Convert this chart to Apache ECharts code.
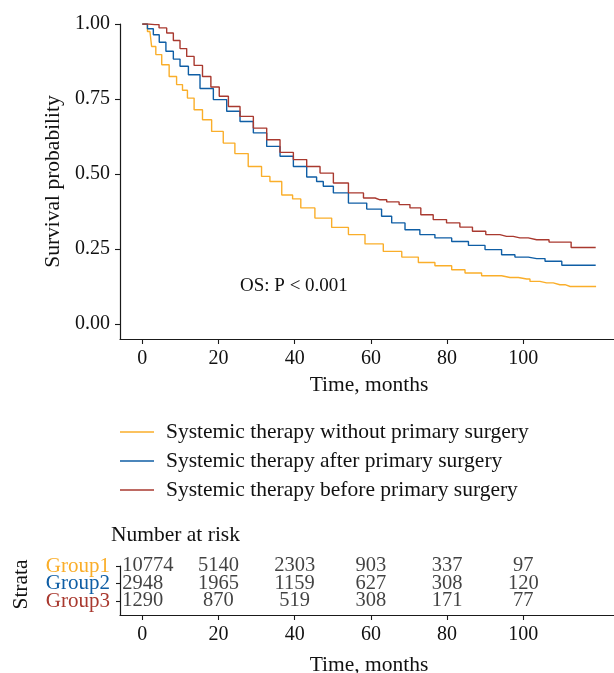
<!DOCTYPE html>
<html><head><meta charset="utf-8">
<script src="https://cdn.jsdelivr.net/npm/echarts@6/dist/echarts.min.js"></script>
<style>html,body{margin:0;padding:0;background:#fff}#c{width:614px;height:673px}</style>
</head><body><div id="c"></div>
<script>
// ---- data ----
const groupNames = ['Group1', 'Group2', 'Group3'];
const legendNames = [
  'Systemic therapy without primary surgery',
  'Systemic therapy after primary surgery',
  'Systemic therapy before primary surgery'
];
const colors = ['#FAAE2A', '#0F5EA5', '#A9392F'];

const monthsG1 = [0, 0.7, 2, 2.9, 4.2, 6, 8.1, 9.9, 11.2, 12.5, 14.7, 16.9, 19.5, 23, 25.6, 30, 32.6, 34.4, 38.8, 40.1, 43.1, 47.5, 51.9, 56.3, 60.6, 65.9, 70.3, 74.6, 79, 83.4, 86, 92.1, 96.5, 100.9, 102.6, 106.1, 109.6, 112.3, 119.1];
const survG1   = [1, 1, 0.975, 0.925, 0.898, 0.864, 0.825, 0.798, 0.779, 0.753, 0.714, 0.681, 0.642, 0.603, 0.568, 0.525, 0.492, 0.475, 0.43, 0.417, 0.387, 0.353, 0.322, 0.298, 0.267, 0.242, 0.223, 0.205, 0.194, 0.181, 0.17, 0.161, 0.155, 0.15, 0.142, 0.137, 0.131, 0.125, 0.125];

const monthsG2 = [0, 0.7, 2, 3.8, 5.1, 7.3, 9, 10.8, 13.4, 16.9, 20.4, 23.9, 27.4, 30.9, 34.4, 37.9, 41.4, 44.9, 46.6, 48.4, 51.9, 56.3, 61.5, 64.1, 66.8, 71.1, 74.6, 79, 83.4, 87.8, 92.1, 96.5, 99.1, 103.5, 107.9, 112.3, 119];
const survG2   = [1, 1, 0.984, 0.964, 0.939, 0.909, 0.883, 0.859, 0.831, 0.785, 0.748, 0.709, 0.675, 0.637, 0.592, 0.559, 0.525, 0.49, 0.475, 0.459, 0.437, 0.403, 0.383, 0.359, 0.337, 0.314, 0.298, 0.287, 0.275, 0.262, 0.248, 0.231, 0.223, 0.218, 0.209, 0.196, 0.196];

const monthsG3 = [0, 3.3, 5.5, 7.3, 9, 10.8, 12.5, 14.7, 16.9, 19.1, 21.3, 23.9, 27.4, 30.9, 34.4, 37.9, 41.4, 44.9, 48.4, 51.9, 56.3, 59.8, 62.4, 65.9, 68.9, 71.6, 74.6, 78.1, 81.6, 85.1, 88.2, 92.1, 95.6, 99.1, 103.5, 110, 115.1, 119];
const survG3   = [1, 0.998, 0.987, 0.97, 0.945, 0.918, 0.892, 0.862, 0.825, 0.79, 0.759, 0.725, 0.692, 0.653, 0.614, 0.572, 0.548, 0.525, 0.503, 0.47, 0.437, 0.42, 0.414, 0.407, 0.398, 0.387, 0.364, 0.348, 0.337, 0.323, 0.309, 0.298, 0.292, 0.287, 0.281, 0.273, 0.255, 0.255];

const riskTimes = [0, 20, 40, 60, 80, 100];
const riskG1 = [10774, 5140, 2303, 903, 337, 97];
const riskG2 = [2948, 1965, 1159, 627, 308, 120];
const riskG3 = [1290, 870, 519, 308, 171, 77];

const timeTicks = [0, 20, 40, 60, 80, 100];
const survTicks = [0, 0.25, 0.5, 0.75, 1];
const strataRows = [1, 2, 3];
const pValueText = 'OS: P < 0.001';

// ---- chart ----
const FONT = 'Liberation Serif';
const AXIS_COLOR = '#1a1a1a';
const survMonths = [monthsG1, monthsG2, monthsG3];
const survVals = [survG1, survG2, survG3];
const riskVals = [riskG1, riskG2, riskG3];

function pairs(xs, ys) { return xs.map((x, i) => [x, ys[i]]); }

const lineSeries = legendNames.map((name, gi) => ({
  name: name,
  type: 'line',
  xAxisIndex: 0, yAxisIndex: 0,
  step: 'middle',
  showSymbol: false,
  symbol: 'none',
  data: pairs(survMonths[gi], survVals[gi]),
  lineStyle: { color: colors[gi], width: 1.4 },
  itemStyle: { color: colors[gi] },
  emphasis: { disabled: true },
  silent: true
}));

const riskData = [];
riskVals.forEach((arr, gi) => {
  arr.forEach((n, ti) => {
    const item = { value: [riskTimes[ti], strataRows[gi], n] };
    if (ti === 0) item.label = { align: 'left', offset: [-20, 0] };
    riskData.push(item);
  });
});

const rich = {};
groupNames.forEach((g, i) => { rich['g' + i] = { color: colors[i], fontFamily: FONT, fontSize: 21 }; });

function xAxisCommon(gridIndex, nameGap) {
  return {
    gridIndex: gridIndex,
    type: 'value',
    min: -5.85, max: 124.85,
    name: 'Time, months',
    nameLocation: 'middle',
    nameGap: nameGap,
    nameTextStyle: { fontFamily: FONT, fontSize: 21.5, color: '#111' },
    axisLine: { show: true, onZero: false, lineStyle: { color: AXIS_COLOR, width: 1.2 } },
    axisTick: { show: true, customValues: timeTicks, length: 5, lineStyle: { color: AXIS_COLOR, width: 1.1 } },
    axisLabel: { customValues: timeTicks, margin: 10, fontFamily: FONT, fontSize: 20, color: '#111' },
    splitLine: { show: false }
  };
}

const option = {
  animation: false,
  backgroundColor: '#fff',
  textStyle: { fontFamily: FONT },
  title: {
    text: 'Number at risk',
    left: 111, top: 524,
    padding: 0,
    textStyle: { fontFamily: FONT, fontSize: 21.5, fontWeight: 'normal', color: '#111' }
  },
  legend: {
    orient: 'vertical',
    left: 120, top: 421,
    padding: 0,
    itemGap: 7,
    itemWidth: 34, itemHeight: 1.6,
    icon: 'rect',
    selectedMode: false,
    textStyle: { fontFamily: FONT, fontSize: 21.5, color: '#111', padding: [0, 0, 0, 7] },
    data: legendNames
  },
  graphic: [{
    type: 'text',
    left: 240, top: 277,
    style: { text: pValueText, font: '19px "Liberation Serif"', fill: '#111' }
  }],
  grid: [
    { left: 120, top: 24, width: 498, height: 315, containLabel: false, outerBoundsMode: 'none' },
    { left: 120, top: 566, width: 498, height: 49, containLabel: false, outerBoundsMode: 'none' },
    { left: 120, top: 557.25, width: 498, height: 52.5, containLabel: false, outerBoundsMode: 'none' }
  ],
  xAxis: [
    xAxisCommon(0, 35),
    xAxisCommon(1, 39),
    { gridIndex: 2, type: 'value', min: -5.85, max: 124.85, show: false }
  ],
  yAxis: [
    {
      gridIndex: 0,
      type: 'value',
      min: -0.05, max: 1.0,
      name: 'Survival probability',
      nameLocation: 'middle',
      nameGap: 56,
      nameTextStyle: { fontFamily: FONT, fontSize: 21.5, color: '#111' },
      axisLine: { show: true, onZero: false, lineStyle: { color: AXIS_COLOR, width: 1.2 } },
      axisTick: { show: true, customValues: survTicks, length: 5, lineStyle: { color: AXIS_COLOR, width: 1.1 } },
      axisLabel: { customValues: survTicks, margin: 10, fontFamily: FONT, fontSize: 20, color: '#111',
        formatter: v => Number(v).toFixed(2) },
      splitLine: { show: false }
    },
    {
      gridIndex: 1,
      type: 'value',
      inverse: true,
      min: 1, max: 3.8,
      name: 'Strata',
      nameLocation: 'middle',
      nameGap: 88,
      nameTextStyle: { fontFamily: FONT, fontSize: 21.5, color: '#111', padding: [0, 0, 0, 12] },
      axisLine: { show: true, onZero: false, lineStyle: { color: AXIS_COLOR, width: 1.2 } },
      axisTick: { show: false },
      axisLabel: { show: false },
      splitLine: { show: false }
    },
    {
      gridIndex: 2,
      type: 'category',
      inverse: true,
      data: groupNames,
      boundaryGap: true,
      axisLine: { show: true, onZero: false, lineStyle: { color: 'rgba(0,0,0,0)', width: 0 } },
      axisTick: { show: true, alignWithLabel: true, interval: 0, length: 4, lineStyle: { color: AXIS_COLOR, width: 1.1 } },
      axisLabel: { interval: 0, margin: 10, rich: rich,
        formatter: (v, idx) => '{g' + idx + '|' + v + '}' },
      splitLine: { show: false }
    }
  ],
  series: lineSeries.concat([{
    type: 'scatter',
    xAxisIndex: 1, yAxisIndex: 1,
    symbolSize: 0,
    silent: true,
    data: riskData,
    label: {
      show: true, position: 'inside',
      fontFamily: FONT, fontSize: 20.5, color: '#111',
      formatter: p => String(p.value[2])
    }
  }])
};

const chart = echarts.init(document.getElementById('c'), null, { renderer: 'canvas' });
chart.setOption(option);
</script>
</body></html>
